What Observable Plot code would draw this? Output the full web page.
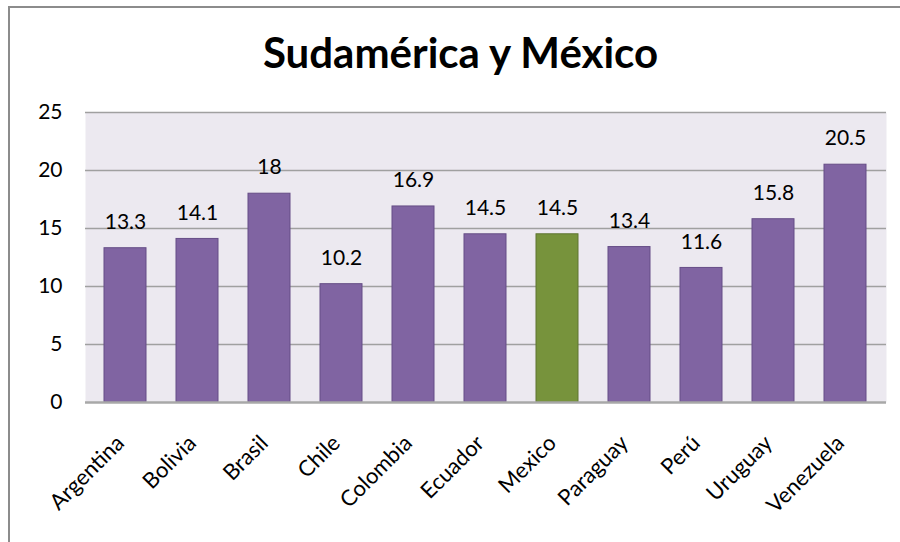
<!DOCTYPE html>
<html>
<head>
<meta charset="utf-8">
<script src="https://cdn.jsdelivr.net/npm/d3@7"></script>
<script src="https://cdn.jsdelivr.net/npm/@observablehq/plot@0.6"></script>
<style>
  html, body { margin: 0; padding: 0; background: #fff; }
  #wrap { position: relative; width: 900px; height: 542px; overflow: hidden; }
  #frame { position: absolute; left: 8px; top: 6px; width: 1000px; height: 700px; border: 2px solid #8c8c8c; box-sizing: border-box; }
  #title { position: absolute; left: 0; width: 921px; top: 27px; text-align: center; font-family: Lato, sans-serif; font-weight: bold; font-size: 42px; line-height: 1.2; color: #000; }
  #chart { position: absolute; left: 0; top: 0; }
</style>
</head>
<body>
<div id="wrap">
  <div id="frame"></div>
  <div id="chart"></div>
  <div id="title">Sudamérica y México</div>
</div>
<script>
const countries = ["Argentina", "Bolivia", "Brasil", "Chile", "Colombia", "Ecuador", "Mexico", "Paraguay", "Perú", "Uruguay", "Venezuela"];
const values = [13.3, 14.1, 18, 10.2, 16.9, 14.5, 14.5, 13.4, 11.6, 15.8, 20.5];
const highlight = "Mexico";
const yTicks = [0, 5, 10, 15, 20, 25];

const data = countries.map((c, i) => ({country: c, value: values[i]}));
const purple = "#8064A2", green = "#77933C";

const chart = Plot.plot({
  width: 900,
  height: 542,
  marginLeft: 85,
  marginRight: 14,
  marginTop: 112,
  marginBottom: 140,
  style: {fontFamily: "Lato, sans-serif", fontSize: "21px", color: "#000", background: "transparent"},
  x: {domain: countries, paddingInner: 0.41, paddingOuter: 0.205, label: null},
  y: {domain: [0, 25], label: null},
  marks: [
    Plot.frame({fill: "#ECE9F0", stroke: null}),
    Plot.ruleY(yTicks.filter(d => d > 0), {stroke: "#a0a0a0", strokeWidth: 1.3}),
    Plot.barY(data, {x: "country", y: "value", fill: d => d.country === highlight ? green : purple,
      stroke: d => d.country === highlight ? "#5e7530" : "#654d86", strokeWidth: 1}),
    Plot.ruleY([0], {stroke: "#a8a8a8", strokeWidth: 2.5}),
    Plot.text(data, {x: "country", y: "value", text: d => String(d.value), dy: -26, fontSize: 21, fill: "#000"}),
    Plot.axisY({ticks: yTicks, tickSize: 0, tickPadding: 23, fontSize: 21, label: null}),
    Plot.axisX({tickSize: 0, tickRotate: -45, tickPadding: 37, dx: -5, fontSize: 22, label: null})
  ]
});
document.getElementById("chart").appendChild(chart);
</script>
</body>
</html>
